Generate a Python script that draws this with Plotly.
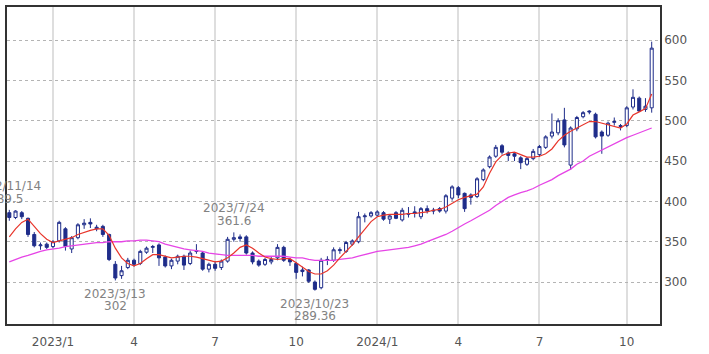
import pandas as pd
import plotly.graph_objects as go

weeks = [d.strftime("%Y-%m-%d") for d in pd.date_range("2022-11-14", periods=104, freq="7D")]

open_ = [386, 380, 386, 379, 359, 345, 347, 344, 351, 366,
         341, 355, 371, 374, 368, 369, 359, 322, 308, 318,
         327, 323, 337, 343, 346, 331, 320, 326, 332, 323,
         338, 336, 316, 322, 318, 326, 353, 356, 356, 336,
         326, 322, 325, 330, 343, 328, 323, 315, 315, 300,
         293, 327, 327, 339, 338, 347, 350, 381, 382, 383,
         386, 378, 386, 377, 384, 385, 381, 391, 388, 391,
         388, 404, 417, 410, 408, 406, 427, 443, 456, 469,
         460, 459, 454, 446, 453, 458, 467, 481, 485, 501,
         445, 490, 505, 512, 508, 486, 482, 498, 494, 494,
         517, 528, 514, 516]
high = [389.5, 389, 388, 380, 362, 349, 349, 352, 376, 368,
        357, 373, 378, 379, 371, 371, 360, 326, 320, 330,
        329, 340, 344, 346, 348, 333, 329, 334, 334, 339,
        347, 338, 324, 326, 328, 356, 361.6, 359, 358, 338,
        328, 330, 331, 347, 345, 330, 325, 319, 316, 302,
        330, 332, 343, 343, 351, 353, 387, 385, 388, 389,
        388, 384, 388, 392, 393, 394, 393, 395, 392, 393,
        409, 420, 419, 411, 410, 430, 441, 457, 470, 471,
        462, 461, 456, 455, 465, 470, 482, 509, 503, 516,
        493, 506, 512, 513, 510, 488, 499, 504, 496, 518,
        539, 530, 528, 598]
low = [376, 378, 378, 356, 343, 340, 341, 342, 349, 339,
       336, 353, 366, 367, 363, 356, 326, 302, 304, 316,
       319, 321, 335, 336, 320, 318, 316, 322, 315, 321,
       335, 314, 312, 314, 315, 324, 350, 350, 334, 322,
       319, 320, 322, 327, 325, 320, 304, 307, 299, 289.36,
       291, 321, 325, 335, 336, 345, 348, 374, 380, 381,
       376, 372, 378, 375, 380, 380, 378, 385, 384, 386,
       385, 401, 404, 387, 396, 404, 425, 441, 454, 458,
       450, 450, 440, 444, 451, 455, 465, 478, 482, 467,
       439, 487, 503, 508, 478, 459, 480, 494, 488, 492,
       514, 511, 511, 510]
close = [380, 388, 381, 359, 345, 346, 343, 350, 374, 344,
         355, 371, 373, 372, 366, 359, 328, 305, 314, 327,
         322, 338, 342, 344, 330, 320, 327, 332, 321, 336,
         339, 316, 322, 317, 326, 353, 355, 354, 336, 325,
         321, 328, 328, 343, 327, 325, 312, 313, 301, 291,
         327, 328, 340, 340, 349, 351, 381, 382, 386, 387,
         378, 382, 379, 389, 385, 387, 391, 388, 389, 388,
         407, 418, 408, 391, 405, 428, 439, 455, 467, 461,
         457, 456, 448, 453, 462, 468, 480, 486, 500, 470,
         491, 504, 510, 511, 480, 481, 497, 499, 493, 516,
         529, 512, 518, 590]

ma_short = [356, 366, 374, 378, 369, 360, 353, 349, 351, 353,
            355, 359, 362, 364, 366, 366, 358, 342, 330, 323,
            320, 323, 329, 334, 334, 332, 330, 331, 332, 332,
            331, 329, 327, 325, 326, 330, 336, 343, 346, 342,
            336, 331, 329, 328, 329, 329, 324, 318, 313, 310,
            310, 314, 321, 330, 338, 346, 356, 366, 375, 381,
            383, 384, 384, 384, 385, 385, 386, 387, 389, 390,
            393, 398, 402, 405, 407, 409, 418, 435, 449, 457,
            460, 461, 458, 455, 455, 456, 459, 465, 475, 482,
            487, 491, 496, 499, 499, 497, 495, 493, 491, 496,
            507, 511, 515, 533]
ma_long = [325, 328, 331, 333, 336, 338, 340, 341, 342, 344,
           345, 346, 347, 348, 349, 349, 350, 350, 350, 351,
           351, 352, 352, 351, 350, 347, 345, 343, 341, 340,
           339, 338, 336, 335, 334, 333, 333, 333, 333, 333,
           332, 332, 332, 332, 332, 331, 330, 330, 328, 327,
           327, 327, 327, 328, 329, 330, 332, 334, 336, 338,
           339, 340, 341, 342, 343, 345, 347, 350, 353, 356,
           359, 363, 368, 372, 376, 380, 384, 389, 395, 400,
           405, 408, 411, 413, 416, 420, 423, 427, 432, 436,
           440, 446, 450, 456, 460, 464, 468, 472, 476, 479,
           482, 485, 488, 491]

tick_weeks = ["2023-01-02", "2023-04-03", "2023-07-03", "2023-10-02",
              "2024-01-01", "2024-04-01", "2024-07-01", "2024-10-07"]
tick_text = ["2023/1", "4", "7", "10", "2024/1", "4", "7", "10"]

# (week, price, kind)
marks = [("2022-11-14", 389.5, "high"), ("2023-03-13", 302, "low"),
         ("2023-07-24", 361.6, "high"), ("2023-10-23", 289.36, "low")]

NAVY = "#1f2d8a"
FONT = "DejaVu Sans"

fig = go.Figure()
fig.add_trace(go.Candlestick(
    x=weeks, open=open_, high=high, low=low, close=close,
    increasing=dict(line=dict(color=NAVY, width=1), fillcolor="#ffffff"),
    decreasing=dict(line=dict(color=NAVY, width=1), fillcolor=NAVY),
    whiskerwidth=0, hoverinfo="skip", showlegend=False))
fig.add_trace(go.Scatter(x=weeks, y=ma_long, mode="lines",
                         line=dict(color="#e645e6", width=1.3),
                         hoverinfo="skip", showlegend=False))
fig.add_trace(go.Scatter(x=weeks, y=ma_short, mode="lines",
                         line=dict(color="#e8352b", width=1.2),
                         hoverinfo="skip", showlegend=False))

for i, (wk, price, kind) in enumerate(marks):
    date_txt = wk.replace("-0", "/").replace("-", "/")
    val_txt = f"{price:g}"
    if kind == "high":
        shifts = [(date_txt, 24), (val_txt, 11)]
    else:
        shifts = [(date_txt, -13.5), (val_txt, -25.3)]
    xs = -3 if i == 0 else 0
    for txt, ys in shifts:
        fig.add_annotation(x=wk, y=price, text=txt, showarrow=False,
                           xanchor="center", yanchor="middle", yshift=ys, xshift=xs,
                           font=dict(family=FONT, size=12, color="#828282"))

fig.update_layout(
    width=709, height=354,
    margin=dict(l=5, r=49, t=5, b=29),
    paper_bgcolor="#ffffff", plot_bgcolor="#ffffff",
    font=dict(family=FONT, size=12, color="#555555"),
    hovermode=False,
)
fig.update_xaxes(
    type="category", range=[-0.37, 104.33],
    rangeslider=dict(visible=False),
    tickmode="array", tickvals=tick_weeks, ticktext=tick_text,
    showgrid=True, gridcolor="#dedede", gridwidth=1.5,
    showline=True, mirror=True, linecolor="#333333", linewidth=1.5,
    ticks="", ticklabelstandoff=6, tickfont=dict(family=FONT, size=12, color="#555555"),
)
fig.update_yaxes(
    side="right", range=[248, 641], tickmode="array",
    tickvals=[300, 350, 400, 450, 500, 550, 600],
    showgrid=True, gridcolor="#b4b4b4", griddash="dot", gridwidth=1,
    showline=True, mirror=True, linecolor="#333333", linewidth=1.5,
    ticks="", ticklabelstandoff=0, zeroline=False,
    tickfont=dict(family=FONT, size=12, color="#555555"),
)

fig.write_html("out.html")
